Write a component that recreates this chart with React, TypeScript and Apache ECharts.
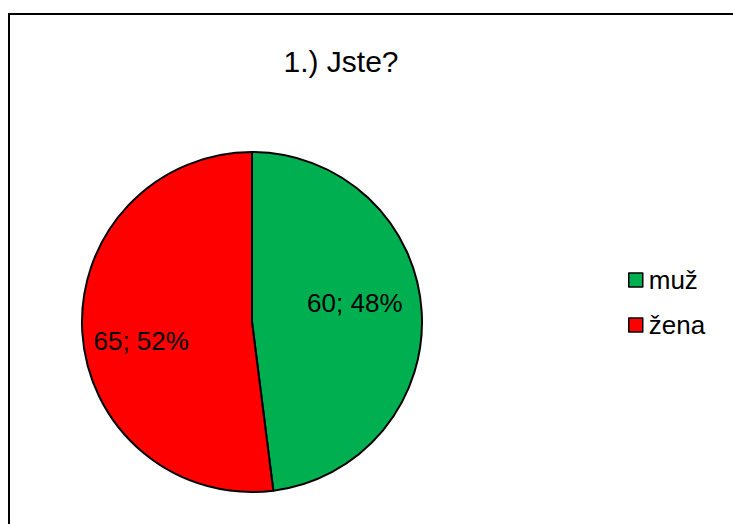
import React, { useEffect, useRef } from "react";
import * as echarts from "echarts";

const titleText = "1.) Jste?";
const categories = ["muž", "žena"];
const values = [60, 65];
const colors = ["#00B050", "#FF0000"];
const labelOffsets = [
  [15, -13],
  [-23, 13],
];

export default function App() {
  const ref = useRef<HTMLDivElement>(null);
  useEffect(() => {
    if (!ref.current) return;
    const chart = echarts.init(ref.current, undefined, { renderer: "svg" });
    const font = "Arial, 'Liberation Sans', sans-serif";
    chart.setOption({
      animation: false,
      backgroundColor: "#ffffff",
      title: {
        text: titleText,
        left: 336,
        top: 41,
        textAlign: "center",
        textStyle: { fontFamily: font, fontSize: 30, fontWeight: "normal", color: "#000" },
      },
      legend: {
        orient: "vertical",
        left: 623,
        top: 260,
        itemWidth: 14,
        itemHeight: 14,
        itemGap: 15,
        icon: "rect",
        data: categories,
        textStyle: { fontFamily: font, fontSize: 26, color: "#000", lineHeight: 30, padding: [0, 0, 0, 1] },
        itemStyle: { borderColor: "#000", borderWidth: 1.5 },
      },
      graphic: [
        {
          type: "rect",
          shape: { x: 9, y: 14, width: 1000, height: 1000 },
          style: { fill: "none", stroke: "#000", lineWidth: 2 },
          silent: true,
        },
      ],
      series: [
        {
          type: "pie",
          center: [252, 322],
          radius: [0, 170],
          startAngle: 90,
          clockwise: true,
          avoidLabelOverlap: false,
          itemStyle: { borderColor: "#000", borderWidth: 2 },
          label: {
            show: true,
            position: "inside",
            formatter: "{c}; {d}%",
            fontFamily: font,
            fontSize: 26,
            color: "#000",
          },
          labelLine: { show: false },
          emphasis: { disabled: true },
          data: categories.map((name, i) => ({
            name,
            value: values[i],
            itemStyle: { color: colors[i] },
            label: { offset: labelOffsets[i] },
          })),
        },
      ],
    });
    return () => chart.dispose();
  }, []);
  return (
    <div
      ref={ref}
      style={{ position: "absolute", left: 0, top: 0, width: 733, height: 524 }}
    />
  );
}
